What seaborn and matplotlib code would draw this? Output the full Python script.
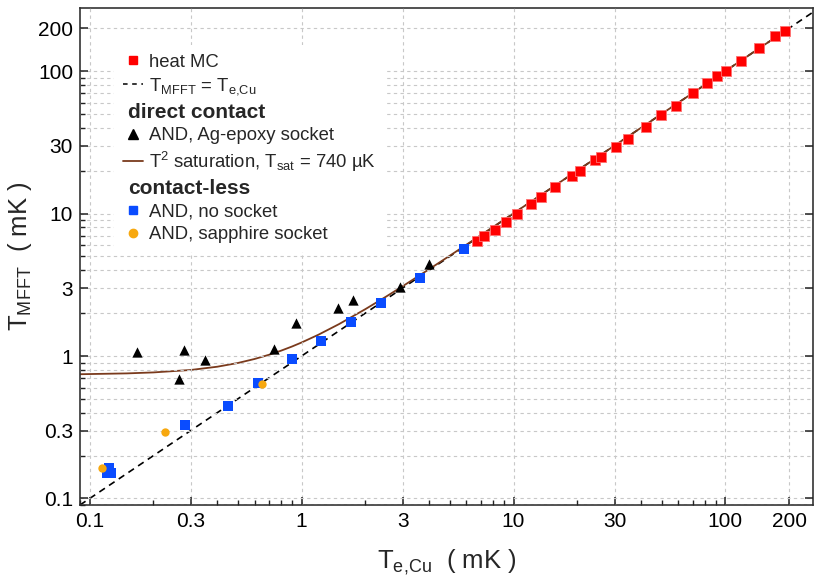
import seaborn as sns
import matplotlib.pyplot as plt
from matplotlib.lines import Line2D
from matplotlib.ticker import FixedLocator, FixedFormatter, LogLocator, NullFormatter

# heat MC (red squares)
heat_x = [6.73, 7.26, 8.15, 9.22, 10.36, 12.06, 13.48, 15.70, 18.88, 20.6, 24.2, 25.9,
          30.3, 34.6, 42.3, 49.4, 58.6, 70.5, 82.0, 91.5, 100.5, 118, 143.4, 170.6, 191]
heat_y = [6.44, 6.95, 7.70, 8.76, 10.0, 11.66, 13.0, 15.3, 18.4, 19.97, 23.7, 25.0,
          29.3, 33.5, 40.6, 48.9, 56.8, 69.7, 82.8, 92.2, 100, 118, 145, 176, 192]

# direct contact, Ag-epoxy socket (black triangles)
ag_x = [0.168, 0.280, 0.351, 0.264, 0.744, 0.942, 1.48, 1.75, 2.92, 3.99]
ag_y = [1.07, 1.10, 0.937, 0.686, 1.12, 1.71, 2.16, 2.47, 3.06, 4.42]

# contact-less, no socket (blue squares)
nos_x = [0.123, 0.1206, 0.126, 0.282, 0.447, 0.621, 0.902, 1.23, 1.71, 2.37, 3.61, 5.84]
nos_y = [0.163, 0.150, 0.152, 0.327, 0.448, 0.643, 0.948, 1.27, 1.74, 2.34, 3.51, 5.65]

# contact-less, sapphire socket (orange circles)
sap_x = [0.114, 0.227, 0.649]
sap_y = [0.163, 0.292, 0.636]

# T^2 saturation curve
sat_x = [0.09, 0.1, 0.15, 0.2, 0.3, 0.4, 0.5, 0.6, 0.7, 0.8, 0.9, 1.0, 1.2, 1.5, 2.0, 2.5,
         3.0, 4.0, 5.0, 7.0, 10, 20, 50, 100, 200]
sat_y = [0.745, 0.747, 0.755, 0.767, 0.798, 0.841, 0.893, 0.953, 1.019, 1.090, 1.165, 1.244,
         1.410, 1.673, 2.133, 2.607, 3.090, 4.068, 5.054, 7.039, 10.03, 20.01, 50.0, 100, 200]

# T_MFFT = T_e,Cu reference line
ref_x = [0.09, 260]
ref_y = [0.09, 260]

ticks = [0.1, 0.3, 1, 3, 10, 30, 100, 200]
tick_labels = ['0.1', '0.3', '1', '3', '10', '30', '100', '200']

sns.set_style('ticks')
plt.rcParams['font.family'] = ['Liberation Sans', 'DejaVu Sans']
plt.rcParams['mathtext.fontset'] = 'custom'
plt.rcParams['mathtext.rm'] = 'Liberation Sans'

fig = plt.figure(figsize=(8.14, 5.78), dpi=100)
ax = fig.add_axes([80 / 814, 73 / 578, 733 / 814, 497 / 578])

sns.lineplot(x=ref_x, y=ref_y, color='black', lw=1.2, linestyle=(0, (4, 3)),
             ax=ax, zorder=2)
sns.lineplot(x=sat_x, y=sat_y, color='#7a3a1c', lw=1.3, sort=False, estimator=None,
             ax=ax, zorder=2)
sns.scatterplot(x=ag_x, y=ag_y, marker='^', color='black', s=55, linewidth=0, ax=ax, zorder=3)
sns.scatterplot(x=nos_x, y=nos_y, marker='s', color='#0a4cff', s=42, linewidth=0, ax=ax, zorder=3)
sns.scatterplot(x=sap_x, y=sap_y, marker='o', color='#f7a80f', s=36, linewidth=0, ax=ax, zorder=3)
sns.scatterplot(x=heat_x, y=heat_y, marker='s', color='#ff0000', s=48, linewidth=0.6,
                edgecolor='#ff7070', ax=ax, zorder=3)

ax.set_xscale('log')
ax.set_yscale('log')
ax.set_xlim(0.09, 259)
ax.set_ylim(0.09, 277)

for axis in (ax.xaxis, ax.yaxis):
    axis.set_major_locator(FixedLocator(ticks))
    axis.set_major_formatter(FixedFormatter(tick_labels))
    axis.set_minor_locator(LogLocator(base=10, subs=range(2, 10), numticks=20))
    axis.set_minor_formatter(NullFormatter())

ax.set_axisbelow(False)
grid_kw = dict(color='#c8c8c8', linestyle=(0, (3, 3)), linewidth=0.8)
ax.grid(which='both', axis='y', **grid_kw)
ax.grid(which='major', axis='x', **grid_kw)

ax.tick_params(which='both', direction='in', labelsize=15, colors='#222222',
               labelcolor='black')
ax.tick_params(which='major', length=6, width=1.1, right=True, pad=5)
ax.tick_params(which='minor', length=3.5, width=1.0)
for s in ax.spines.values():
    s.set_linewidth(1.2)
    s.set_color('#333333')

ax.set_xlabel('T$_\\mathregular{e{,}Cu}$  ( mK )', fontsize=18.5, labelpad=12)
ax.set_ylabel('T$_\\mathregular{MFFT}$  ( mK )', fontsize=18.5, labelpad=3)

headers = ['direct contact', 'contact-less']
handles = [
    Line2D([], [], marker='s', color='#ff0000', linestyle='none', markersize=6),
    Line2D([], [], color='black', linestyle=(0, (3, 3)), lw=1.1),
    Line2D([], [], linestyle='none'),
    Line2D([], [], marker='^', color='black', linestyle='none', markersize=6.5),
    Line2D([], [], color='#7a3a1c', lw=1.3),
    Line2D([], [], linestyle='none'),
    Line2D([], [], marker='s', color='#0a4cff', linestyle='none', markersize=6),
    Line2D([], [], marker='o', color='#f7a80f', linestyle='none', markersize=6),
]
labels = ['heat MC',
          'T$_\\mathregular{MFFT}$ = T$_\\mathregular{e{,}Cu}$',
          'direct contact',
          'AND, Ag-epoxy socket',
          'T$^\\mathregular{2}$ saturation, T$_\\mathregular{sat}$ = 740 µK',
          'contact-less',
          'AND, no socket',
          'AND, sapphire socket']
leg = ax.legend(handles, labels, loc='upper left', bbox_to_anchor=(0.047, 0.925),
                borderaxespad=0, fontsize=13.3, frameon=True, fancybox=False,
                handlelength=1.1, handletextpad=0.3, labelspacing=0.3,
                borderpad=0.45)
leg.get_frame().set_facecolor('white')
leg.get_frame().set_edgecolor('none')
leg.get_frame().set_alpha(1)
for t in leg.get_texts():
    if t.get_text() in headers:
        t.set_fontweight('bold')
        t.set_fontsize(15)
for col in leg._legend_handle_box.get_children():
    for row in col.get_children():
        da, ta = row.get_children()
        if ta.get_text() in headers:
            da.width = 0

plt.savefig('out.png', dpi=100)
